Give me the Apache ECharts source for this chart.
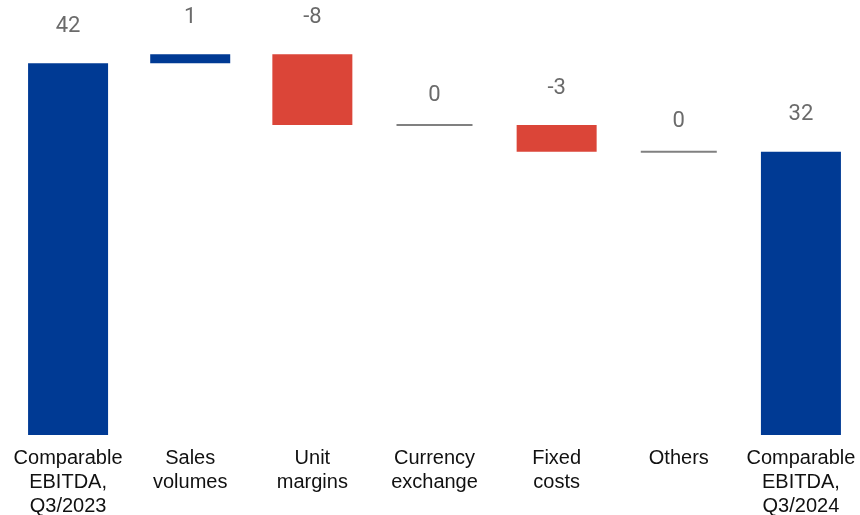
<!DOCTYPE html>
<html>
<head>
<meta charset="utf-8">
<title>Comparable EBITDA bridge</title>
<script src="https://cdn.jsdelivr.net/npm/echarts@6/dist/echarts.min.js"></script>
<style>
  html, body { margin: 0; padding: 0; background: #ffffff; }
  #chart { width: 860px; height: 515px; }
</style>
</head>
<body>
<div id="chart"></div>
<script>
// Bridge steps from Q3/2023 to Q3/2024 comparable EBITDA
const categories = [
  'Comparable\nEBITDA,\nQ3/2023',
  'Sales\nvolumes',
  'Unit\nmargins',
  'Currency\nexchange',
  'Fixed\ncosts',
  'Others',
  'Comparable\nEBITDA,\nQ3/2024'
];
const stepValues = [42, 1, -8, 0, -3, 0, 32];
const isTotal = [true, false, false, false, false, false, true];

const BLUE = '#003a94';
const RED = '#db4538';
const ZERO_GREY = '#808080';

// Build floating segments: [index, low, high, value, total?]
const segments = [];
let running = 0;
stepValues.forEach((v, i) => {
  let lo, hi;
  if (isTotal[i]) {
    lo = 0; hi = v; running = v;
  } else {
    const start = running;
    running = start + v;
    lo = Math.min(start, running);
    hi = Math.max(start, running);
  }
  segments.push([i, lo, hi, v, isTotal[i] ? 1 : 0]);
});

const chart = echarts.init(document.getElementById('chart'), null, { renderer: 'canvas' });

chart.setOption({
  animation: false,
  grid: { left: 7, right: -2, top: 10, bottom: 80, outerBoundsMode: 'none', containLabel: false },
  xAxis: {
    type: 'category',
    data: categories,
    axisLine: { show: false },
    axisTick: { show: false },
    axisLabel: {
      interval: 0,
      color: '#111111',
      fontFamily: 'Liberation Sans, Arial, sans-serif',
      fontSize: 20,
      lineHeight: 24,
      margin: 11,
      align: 'center'
    }
  },
  yAxis: {
    type: 'value',
    min: 0,
    max: 48,
    show: false,
    splitLine: { show: false }
  },
  series: [{
    type: 'custom',
    data: segments,
    encode: { x: 0, y: [1, 2] },
    renderItem: function (params, api) {
      const idx = api.value(0);
      const lo = api.value(1);
      const hi = api.value(2);
      const v = api.value(3);
      const top = api.coord([idx, hi]);
      const bottom = api.coord([idx, lo]);
      const band = api.size([1, 0])[0];
      const w = band * 0.655;
      const x = top[0];
      const children = [];
      let labelY;
      if (v === 0) {
        const lw = w - 4;
        children.push({
          type: 'line',
          shape: { x1: x - lw / 2, y1: top[1], x2: x + lw / 2, y2: top[1] },
          style: { stroke: ZERO_GREY, lineWidth: 2 }
        });
        labelY = top[1] - 30;
      } else {
        const color = (api.value(4) === 1 || v > 0) ? BLUE : RED;
        children.push({
          type: 'rect',
          shape: { x: x - w / 2, y: top[1], width: w, height: bottom[1] - top[1] },
          style: { fill: color }
        });
        labelY = top[1] - 37;
      }
      children.push({
        type: 'text',
        style: {
          x: x,
          y: labelY,
          text: String(v),
          fill: '#6b6b6b',
          font: '22px Roboto, "Noto Sans", sans-serif',
          align: 'center',
          verticalAlign: 'middle'
        }
      });
      return { type: 'group', children: children };
    }
  }]
});
</script>
</body>
</html>
